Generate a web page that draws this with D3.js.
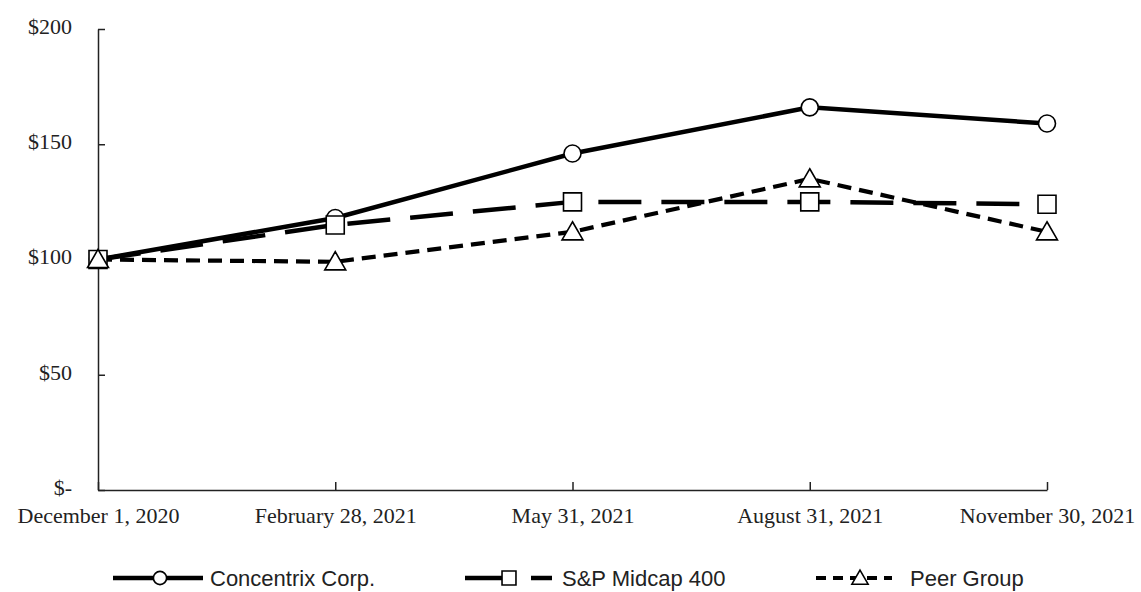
<!DOCTYPE html>
<html><head><meta charset="utf-8">
<script src="https://cdn.jsdelivr.net/npm/d3@7/dist/d3.min.js"></script>
<style>body{margin:0;background:#fff}svg{display:block}</style>
</head><body>
<svg id="c" width="1141" height="592"></svg>
<script>
const categories = ["December 1, 2020","February 28, 2021","May 31, 2021","August 31, 2021","November 30, 2021"];
const concentrix = [100,118,146,166,159];
const spMidcap = [100,115,125,125,124];
const peerGroup = [100,99,112,135,112];
const yTicks = [0,50,100,150,200];
const yTickLabels = ["$-","$50","$100","$150","$200"];
const seriesNames = ["Concentrix Corp.","S&P Midcap 400","Peer Group"];

const svg = d3.select("#c");
const x = d3.scalePoint().domain(categories).range([98,1047]);
const y = d3.scaleLinear().domain([0,200]).range([490,29]);

const serif = "'Liberation Serif','Times New Roman',serif";
const sans = "'Liberation Sans',Arial,sans-serif";

// axes
const yAxis = d3.axisLeft(y).tickValues(yTicks).tickSizeInner(-7).tickSizeOuter(0)
  .tickFormat((d,i)=>yTickLabels[i]).tickPadding(26);
const gy = svg.append("g").attr("transform","translate(98,0)").call(yAxis);
gy.select(".domain").attr("stroke","#222").attr("stroke-width",1.5);
gy.selectAll(".tick line").attr("stroke","#222").attr("stroke-width",1.5);
gy.selectAll(".tick text").attr("font-family",serif).attr("font-size",22).attr("fill","#222").attr("dy","0.2em");

const xAxis = d3.axisBottom(x).tickSizeInner(-8).tickSizeOuter(0).tickPadding(17);
const gx = svg.append("g").attr("transform","translate(0,490)").call(xAxis);
gx.select(".domain").attr("stroke","#222").attr("stroke-width",1.5);
gx.selectAll(".tick line").attr("stroke","#222").attr("stroke-width",1.5);
gx.selectAll(".tick text").attr("font-family",serif).attr("font-size",22).attr("fill","#222");

const series = [
  {name:seriesNames[0], vals:concentrix, dash:null, w:4.5, marker:"circle"},
  {name:seriesNames[1], vals:spMidcap, dash:"43,20", w:4.5, marker:"square"},
  {name:seriesNames[2], vals:peerGroup, dash:"14,8", w:4.2, marker:"triangle"}
];
const symType = {circle:d3.symbolCircle, square:d3.symbolSquare, triangle:d3.symbolTriangle};
const symSize = {circle:Math.PI*8.5*8.5, square:18*18, triangle:190};

const line = d3.line().x((d,i)=>x(categories[i])).y(d=>y(d));
series.forEach(s=>{
  svg.append("path").datum(s.vals).attr("d",line).attr("fill","none")
    .attr("stroke","#000").attr("stroke-width",s.w)
    .attr("stroke-dasharray",s.dash);
});
series.forEach(s=>{
  svg.append("g").selectAll("path").data(s.vals).join("path")
    .attr("transform",(d,i)=>`translate(${x(categories[i])},${y(d) + (s.marker==="triangle"?2:0)})`)
    .attr("d",d3.symbol().type(symType[s.marker]).size(symSize[s.marker]))
    .attr("fill","#fff").attr("stroke","#000").attr("stroke-width",1.6);
});

// legend
const legendY = 578;
const legend = [
  {segs:[[113,203]], dash:null, mx:160, tx:210},
  {segs:[[465,503],[531,552]], dash:null, mx:509, tx:562},
  {segs:[[816,892]], dash:"10,7", mx:860, tx:910}
];
series.forEach((s,i)=>{
  const L = legend[i];
  const g = svg.append("g");
  L.segs.forEach(sg=>{
    g.append("line").attr("x1",sg[0]).attr("x2",sg[1]).attr("y1",legendY).attr("y2",legendY)
      .attr("stroke","#000").attr("stroke-width",s.w)
      .attr("stroke-dasharray", L.dash);
  });
  g.append("path").attr("transform",`translate(${L.mx},${legendY + (s.marker==="triangle"?1.5:0)})`)
    .attr("d",d3.symbol().type(symType[s.marker]).size(symSize[s.marker]*0.6))
    .attr("fill","#fff").attr("stroke","#000").attr("stroke-width",1.6);
  g.append("text").attr("x",L.tx).attr("y",legendY).attr("dy","0.36em")
    .attr("font-family",sans).attr("font-size",22).attr("fill","#222").text(s.name);
});
</script>
</body></html>
